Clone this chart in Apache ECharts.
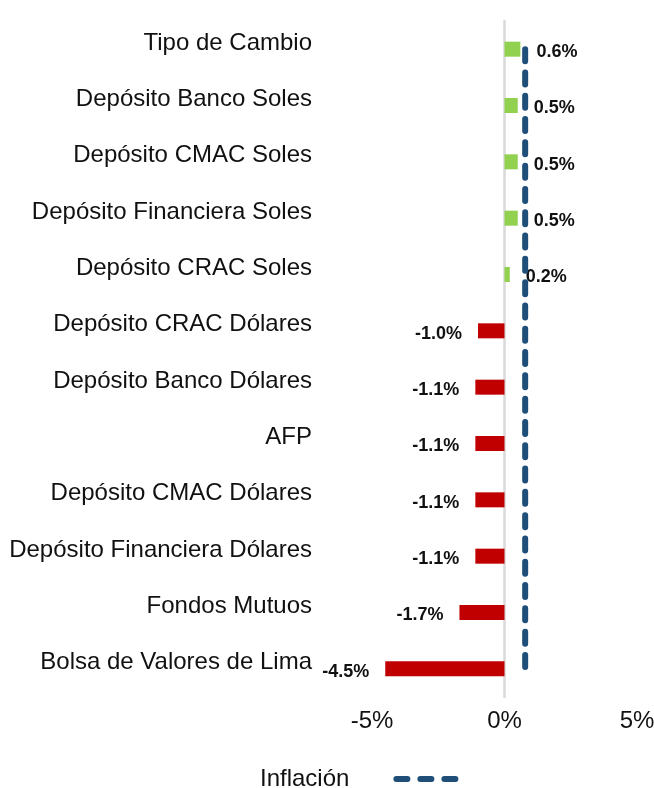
<!DOCTYPE html>
<html>
<head>
<meta charset="utf-8">
<script src="https://cdn.jsdelivr.net/npm/echarts@6/dist/echarts.min.js"></script>
<style>
  html, body { margin: 0; padding: 0; background: #fff; }
  #main { width: 654px; height: 788px; }
</style>
</head>
<body>
<div id="main"></div>
<script>
var categorias = ['Tipo de Cambio', 'Depósito Banco Soles', 'Depósito CMAC Soles', 'Depósito Financiera Soles',
    'Depósito CRAC Soles', 'Depósito CRAC Dólares', 'Depósito Banco Dólares', 'AFP',
    'Depósito CMAC Dólares', 'Depósito Financiera Dólares', 'Fondos Mutuos', 'Bolsa de Valores de Lima'];
var rentabilidad = [0.6, 0.5, 0.5, 0.5, 0.2, -1.0, -1.1, -1.1, -1.1, -1.1, -1.7, -4.5];
var inflacion = 0.78;
var ticksX = [-5, 0, 5];

var myChart = echarts.init(document.getElementById('main'));
var option = {
    animation: false,
    textStyle: { fontFamily: 'Liberation Sans, Arial, sans-serif' },
    grid: { left: 372, right: 17, top: 21, bottom: 91, outerBoundsMode: 'none', containLabel: false },
    legend: {
        top: 762,
        left: 255,
        align: 'right',
        itemWidth: 65,
        itemHeight: 12,
        data: ['Inflación'],
        itemStyle: { opacity: 0 },
        lineStyle: { color: '#1F4E79', width: 6, type: [11, 13], cap: 'round' },
        textStyle: { fontSize: 24, color: '#111', padding: [0, 42, 0, 0] }
    },
    xAxis: {
        type: 'value',
        min: ticksX[0],
        max: ticksX[ticksX.length - 1],
        interval: 5,
        axisLine: { show: false },
        axisTick: { show: false },
        splitLine: { show: false },
        axisLabel: { formatter: '{value}%', fontSize: 24, color: '#111', margin: 12 }
    },
    yAxis: {
        type: 'category',
        inverse: true,
        data: categorias,
        axisLine: { show: true, onZero: true, lineStyle: { color: '#d9d9d9', width: 2.5 } },
        axisTick: { show: false },
        axisLabel: { fontSize: 24, color: '#111', margin: 60, verticalAlign: 'bottom', lineHeight: 12 }
    },
    series: [{
        name: 'Rentabilidad',
        type: 'bar',
        barWidth: 15,
        data: rentabilidad.map(function (v) {
            return {
                value: v,
                itemStyle: { color: v >= 0 ? '#92D050' : '#C00000' },
                label: { position: v >= 0 ? 'right' : 'left' }
            };
        }),
        label: {
            show: true,
            distance: 16,
            offset: [0, 3],
            fontSize: 18,
            fontWeight: 'bold',
            color: '#111',
            formatter: function (p) { return p.value.toFixed(1) + '%'; }
        }
    }, {
        name: 'Inflación',
        type: 'line',
        symbol: 'none',
        data: categorias.map(function (c) { return [inflacion, c]; }),
        lineStyle: { color: '#1F4E79', width: 6, type: [12, 11.3], cap: 'round' },
        itemStyle: { color: '#1F4E79' }
    }]
};
myChart.setOption(option);
window.addEventListener('resize', function () {
    myChart.resize();
});
</script>
</body>
</html>
